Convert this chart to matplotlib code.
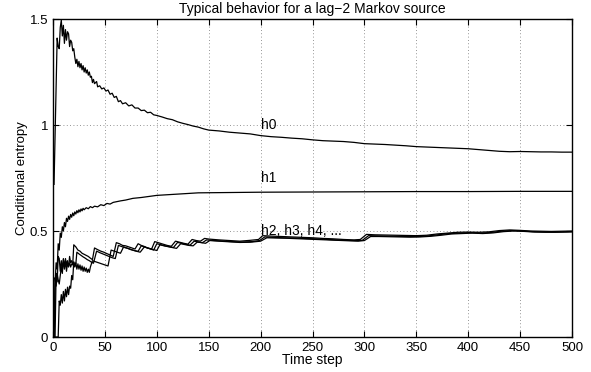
import matplotlib
matplotlib.use("Agg")
import matplotlib.pyplot as plt

plt.rcParams['font.family'] = ['Liberation Sans', 'DejaVu Sans']

title = "Typical behavior for a lag\u22122 Markov source"
xlabel = "Time step"
ylabel = "Conditional entropy"
xticks = [0, 50, 100, 150, 200, 250, 300, 350, 400, 450, 500]
yticks = [0, 0.5, 1, 1.5]
ytick_labels = ["0", "0.5", "1", "1.5"]

h0_t = [1, 4, 5, 6, 7, 8, 9, 10, 11, 12, 13, 14, 15, 16, 17, 18, 19, 20, 21, 22, 23, 24, 25, 26, 27, 28,
        29, 30, 31, 32, 33, 34, 35, 36, 37, 38, 39, 40, 42, 43, 45, 47, 49, 51, 53, 55, 57, 59, 61, 63,
        65, 67, 70, 73, 76, 79, 82, 85, 88, 91, 94, 97, 100, 105, 110, 115, 120, 125, 130, 135, 140, 145,
        150, 160, 170, 180, 190, 200, 210, 220, 230, 240, 250, 260, 270, 280, 290, 300, 310, 320, 330,
        340, 350, 360, 370, 380, 390, 400, 410, 420, 430, 440, 450, 460, 470, 480, 490, 500]
h0_v = [0.72, 1.41, 1.37, 1.36, 1.46, 1.495, 1.42, 1.47, 1.385, 1.45, 1.40, 1.44, 1.43, 1.37, 1.40, 1.39,
        1.35, 1.36, 1.32, 1.29, 1.31, 1.275, 1.30, 1.27, 1.29, 1.26, 1.28, 1.25, 1.27, 1.245, 1.26, 1.235,
        1.25, 1.225, 1.23, 1.20, 1.215, 1.195, 1.205, 1.18, 1.185, 1.17, 1.175, 1.16, 1.165, 1.145, 1.15,
        1.13, 1.135, 1.11, 1.115, 1.10, 1.105, 1.09, 1.095, 1.08, 1.08, 1.068, 1.07, 1.058, 1.06, 1.048,
        1.045, 1.038, 1.03, 1.025, 1.015, 1.008, 1.002, 0.995, 0.99, 0.982, 0.976, 0.972, 0.966, 0.962,
        0.958, 0.95, 0.945, 0.942, 0.938, 0.935, 0.93, 0.926, 0.924, 0.922, 0.918, 0.912, 0.91, 0.908,
        0.905, 0.902, 0.898, 0.896, 0.894, 0.892, 0.89, 0.888, 0.884, 0.88, 0.876, 0.874, 0.875, 0.874,
        0.873, 0.873, 0.872, 0.872]

h1_t = [1, 2, 3, 4, 5, 6, 7, 8, 9, 10, 11, 12, 13, 14, 15, 16, 17, 18, 19, 20, 21, 22, 23, 24, 25, 26,
        27, 28, 29, 30, 32, 34, 36, 38, 40, 43, 46, 49, 52, 55, 58, 61, 65, 70, 77, 85, 100, 110, 120,
        140, 160, 180, 200, 250, 300, 350, 400, 450, 500]
h1_v = [0.0, 0.25, 0.35, 0.32, 0.44, 0.41, 0.49, 0.47, 0.52, 0.50, 0.54, 0.52, 0.56, 0.545, 0.57, 0.555,
        0.578, 0.565, 0.585, 0.572, 0.59, 0.58, 0.596, 0.586, 0.60, 0.59, 0.604, 0.595, 0.607, 0.60, 0.61,
        0.605, 0.615, 0.61, 0.617, 0.614, 0.624, 0.62, 0.63, 0.627, 0.635, 0.638, 0.642, 0.646, 0.654,
        0.658, 0.668, 0.671, 0.674, 0.68, 0.681, 0.682, 0.683, 0.684, 0.685, 0.686, 0.686, 0.687, 0.687]

h2_t = [1, 2, 3, 4, 5, 6, 7, 8, 9, 10, 11, 12, 13, 14, 15, 16, 17, 18, 19, 20, 22, 24, 26, 28, 30, 32,
        34, 36, 38, 40, 43, 46, 49, 52, 55, 58, 61, 64, 67, 70, 73, 76, 79, 82, 85, 88, 91, 95, 98, 102,
        106, 110, 114, 118, 122, 126, 130, 134, 138, 142, 146, 150, 160, 170, 180, 190, 198, 202, 210,
        220, 230, 240, 250, 260, 270, 280, 290, 296, 302, 310, 320, 330, 340, 350, 360, 370, 380, 390,
        400, 410, 420, 430, 440, 450, 460, 470, 480, 490, 500]
h2_v = [0.0, 0.0, 0.30, 0.26, 0.38, 0.37, 0.31, 0.36, 0.32, 0.365, 0.33, 0.37, 0.34, 0.36, 0.335, 0.35,
        0.33, 0.345, 0.34, 0.435, 0.425, 0.41, 0.405, 0.395, 0.39, 0.385, 0.38, 0.372, 0.365, 0.42, 0.412,
        0.405, 0.40, 0.393, 0.387, 0.38, 0.445, 0.44, 0.432, 0.43, 0.425, 0.42, 0.415, 0.44, 0.432, 0.427,
        0.42, 0.415, 0.45, 0.444, 0.438, 0.432, 0.428, 0.452, 0.447, 0.442, 0.438, 0.46, 0.455, 0.452,
        0.465, 0.462, 0.458, 0.455, 0.452, 0.456, 0.46, 0.478, 0.476, 0.474, 0.472, 0.47, 0.468, 0.465,
        0.463, 0.46, 0.458, 0.46, 0.484, 0.482, 0.481, 0.48, 0.479, 0.478, 0.48, 0.486, 0.49, 0.494,
        0.495, 0.494, 0.496, 0.502, 0.505, 0.503, 0.5, 0.499, 0.498, 0.499, 0.5]

h3_t = [1, 2, 3, 4, 5, 6, 7, 8, 9, 10, 11, 12, 13, 14, 15, 16, 17, 18, 19, 20, 22, 23, 25, 27, 29, 31,
        33, 35, 37, 39, 42, 45, 48, 51, 54, 57, 60, 63, 66, 69, 72, 75, 78, 82, 85, 88, 91, 94, 97, 100,
        104, 108, 112, 116, 120, 124, 128, 132, 136, 140, 144, 148, 152, 162, 172, 182, 192, 199, 204,
        212, 222, 232, 242, 252, 262, 272, 282, 292, 298, 304, 312, 322, 332, 342, 352, 362, 372, 382,
        392, 402, 412, 422, 432, 442, 452, 462, 472, 482, 492, 500]
h3_v = [0.0, 0.28, 0.24, 0.30, 0.27, 0.25, 0.29, 0.33, 0.30, 0.37, 0.32, 0.36, 0.31, 0.35, 0.33, 0.38,
        0.35, 0.36, 0.345, 0.35, 0.345, 0.40, 0.392, 0.385, 0.378, 0.372, 0.365, 0.36, 0.353, 0.348, 0.405,
        0.398, 0.392, 0.386, 0.38, 0.374, 0.37, 0.432, 0.427, 0.422, 0.418, 0.412, 0.408, 0.404, 0.43,
        0.425, 0.42, 0.415, 0.41, 0.44, 0.435, 0.43, 0.426, 0.422, 0.446, 0.442, 0.437, 0.433, 0.452,
        0.448, 0.445, 0.458, 0.456, 0.453, 0.45, 0.448, 0.45, 0.455, 0.472, 0.47, 0.468, 0.467, 0.465,
        0.463, 0.461, 0.458, 0.456, 0.455, 0.456, 0.478, 0.477, 0.476, 0.475, 0.474, 0.474, 0.477, 0.483,
        0.488, 0.49, 0.492, 0.49, 0.493, 0.499, 0.502, 0.5, 0.497, 0.496, 0.495, 0.496, 0.497]

h4_t = [1, 5, 6, 7, 8, 9, 10, 11, 12, 13, 14, 15, 16, 17, 18, 19, 20, 21, 22, 23, 24, 25, 26, 27, 28,
        29, 30, 31, 32, 33, 34, 35, 36, 38, 41, 44, 47, 50, 53, 56, 59, 62, 65, 68, 71, 74, 77, 80, 84,
        88, 91, 94, 97, 100, 103, 107, 111, 115, 119, 123, 127, 131, 135, 139, 143, 147, 151, 160, 170,
        180, 190, 200, 206, 214, 224, 234, 244, 254, 264, 274, 284, 294, 300, 306, 314, 324, 334, 344,
        354, 364, 374, 384, 394, 404, 414, 424, 434, 444, 454, 464, 474, 484, 494, 500]
h4_v = [0.0, 0.0, 0.17, 0.15, 0.20, 0.16, 0.215, 0.17, 0.225, 0.19, 0.235, 0.20, 0.24, 0.23, 0.29, 0.27,
        0.355, 0.33, 0.35, 0.32, 0.345, 0.32, 0.34, 0.315, 0.335, 0.31, 0.33, 0.31, 0.325, 0.305, 0.32,
        0.305, 0.33, 0.36, 0.355, 0.35, 0.345, 0.34, 0.335, 0.41, 0.405, 0.40, 0.395, 0.425, 0.42, 0.415,
        0.41, 0.405, 0.40, 0.425, 0.42, 0.416, 0.412, 0.408, 0.435, 0.43, 0.426, 0.422, 0.418, 0.44,
        0.436, 0.432, 0.43, 0.448, 0.445, 0.442, 0.455, 0.452, 0.449, 0.446, 0.447, 0.452, 0.468, 0.467,
        0.466, 0.464, 0.462, 0.46, 0.458, 0.456, 0.454, 0.452, 0.455, 0.474, 0.474, 0.473, 0.472, 0.471,
        0.472, 0.475, 0.48, 0.486, 0.488, 0.49, 0.488, 0.491, 0.497, 0.5, 0.498, 0.495, 0.494, 0.494,
        0.495, 0.496]

labels = ["h0", "h1", "h2, h3, h4, ..."]
label_t = [200, 200, 200]
label_v = [1.0, 0.75, 0.5]

fig = plt.figure(figsize=(5.91, 3.72), dpi=100)
ax = fig.add_axes([53/591, 35/372, 519/591, 318/372])

for t, v in [(h0_t, h0_v), (h1_t, h1_v), (h2_t, h2_v), (h3_t, h3_v), (h4_t, h4_v)]:
    ax.plot(t, v, color='black', lw=0.9, zorder=3)

for s, t, v in zip(labels, label_t, label_v):
    ax.text(t, v, s, fontsize=10, va='center', ha='left', zorder=4)

ax.set_xlim(0, 500)
ax.set_ylim(0, 1.5)
ax.set_xticks(xticks)
ax.set_yticks(yticks)
ax.set_yticklabels(ytick_labels)
ax.grid(True, color='0.45', linestyle=(0, (1, 3)), linewidth=0.6)
ax.tick_params(direction='in', top=True, right=True, length=4, width=0.8, labelsize=9.5)
ax.tick_params(axis='x', pad=3.5)
ax.tick_params(axis='y', pad=3.5)
for sp in ax.spines.values():
    sp.set_linewidth(1.0)
ax.set_title(title, fontsize=10, pad=4.5)
ax.set_xlabel(xlabel, fontsize=10, labelpad=-0.5)
ax.set_ylabel(ylabel, fontsize=9.5, labelpad=1.5)

fig.savefig("out.png", dpi=100)
